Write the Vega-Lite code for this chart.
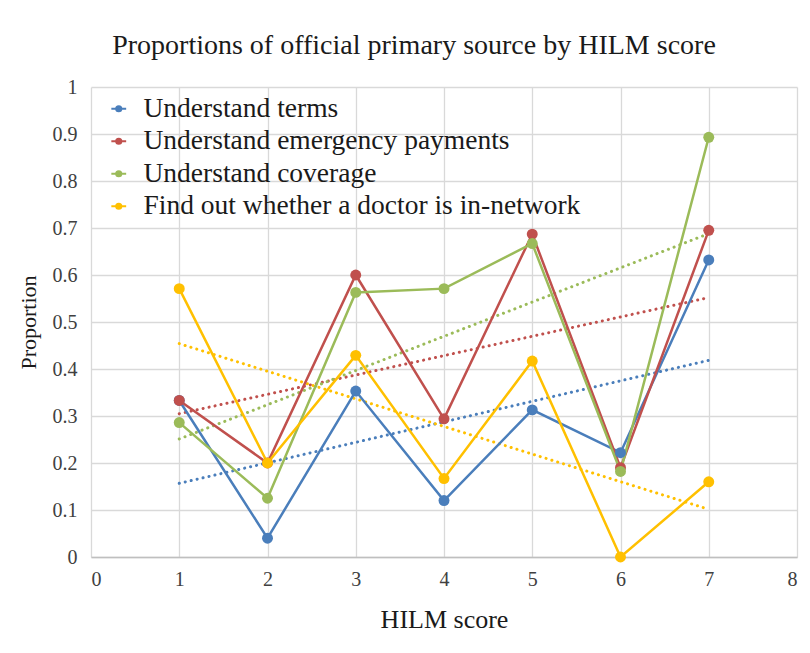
{
  "$schema": "https://vega.github.io/schema/vega-lite/v6.json",
  "width": 706,
  "height": 470,
  "autosize": {"type": "none"},
  "padding": {"left": 91, "top": 87, "right": 13, "bottom": 96},
  "background": "white",
  "title": {
    "text": "Proportions of official primary source by HILM score",
    "font": "Liberation Serif",
    "fontSize": 28,
    "fontWeight": "normal",
    "color": "#1a1a1a",
    "anchor": "middle",
    "dx": -30,
    "offset": 17
  },
  "config": {
    "view": {"stroke": null},
    "font": "Liberation Serif",
    "axis": {
      "labelFont": "Liberation Serif",
      "labelFontSize": 20,
      "labelColor": "#404040",
      "titleFont": "Liberation Serif",
      "titleFontWeight": "normal",
      "titleColor": "#1a1a1a",
      "gridColor": "#d9d9d9",
      "gridWidth": 1.3,
      "ticks": false,
      "domainColor": "#bfbfbf",
      "domainWidth": 1.5
    }
  },
  "data": {
    "values": [
      {"series": "Understand terms", "x": 1, "y": 0.333},
      {"series": "Understand terms", "x": 2, "y": 0.04},
      {"series": "Understand terms", "x": 3, "y": 0.353},
      {"series": "Understand terms", "x": 4, "y": 0.12},
      {"series": "Understand terms", "x": 5, "y": 0.313},
      {"series": "Understand terms", "x": 6, "y": 0.222},
      {"series": "Understand terms", "x": 7, "y": 0.632},
      {"series": "Understand emergency payments", "x": 1, "y": 0.333},
      {"series": "Understand emergency payments", "x": 2, "y": 0.2},
      {"series": "Understand emergency payments", "x": 3, "y": 0.6},
      {"series": "Understand emergency payments", "x": 4, "y": 0.294},
      {"series": "Understand emergency payments", "x": 5, "y": 0.687},
      {"series": "Understand emergency payments", "x": 6, "y": 0.19},
      {"series": "Understand emergency payments", "x": 7, "y": 0.695},
      {"series": "Understand coverage", "x": 1, "y": 0.286},
      {"series": "Understand coverage", "x": 2, "y": 0.125},
      {"series": "Understand coverage", "x": 3, "y": 0.563},
      {"series": "Understand coverage", "x": 4, "y": 0.571},
      {"series": "Understand coverage", "x": 5, "y": 0.667},
      {"series": "Understand coverage", "x": 6, "y": 0.182},
      {"series": "Understand coverage", "x": 7, "y": 0.893},
      {"series": "Find out whether a doctor is in-network", "x": 1, "y": 0.571},
      {"series": "Find out whether a doctor is in-network", "x": 2, "y": 0.2},
      {"series": "Find out whether a doctor is in-network", "x": 3, "y": 0.429},
      {"series": "Find out whether a doctor is in-network", "x": 4, "y": 0.167},
      {"series": "Find out whether a doctor is in-network", "x": 5, "y": 0.417},
      {"series": "Find out whether a doctor is in-network", "x": 6, "y": 0.0},
      {"series": "Find out whether a doctor is in-network", "x": 7, "y": 0.16}
    ]
  },
  "encoding": {
    "x": {
      "field": "x", "type": "quantitative",
      "scale": {"domain": [0, 8], "nice": false},
      "axis": {"values": [0,1,2,3,4,5,6,7,8], "title": "HILM score", "titleFontSize": 26, "titlePadding": 17, "labelPadding": 12, "domain": true, "format": "d"}
    },
    "y": {
      "field": "y", "type": "quantitative",
      "scale": {"domain": [0, 1], "nice": false},
      "axis": {"values": [0,0.1,0.2,0.3,0.4,0.5,0.6,0.7,0.8,0.9,1], "format": ".1~f", "title": "Proportion", "titleFontSize": 22, "titlePadding": 12, "labelPadding": 14, "domain": false}
    },
    "color": {
      "field": "series", "type": "nominal",
      "scale": {
        "domain": ["Understand terms", "Understand emergency payments", "Understand coverage", "Find out whether a doctor is in-network"],
        "range": ["#4a7ebb", "#c0504d", "#9bbb59", "#ffc000"]
      },
      "legend": {
        "title": null,
        "orient": "none",
        "legendX": 14,
        "legendY": 8,
        "labelFont": "Liberation Serif",
        "labelFontSize": 27.5,
        "labelColor": "#1a1a1a",
        "labelLimit": 700,
        "rowPadding": 3.5,
        "symbolType": "M-1,0H1M-0.35,0A0.35,0.35 0 1,0 0.35,0A0.35,0.35 0 1,0 -0.35,0",
        "symbolSize": 220,
        "symbolStrokeWidth": 2,
        "labelOffset": 11
      }
    }
  },
  "layer": [
    {
      "transform": [{"regression": "y", "on": "x", "groupby": ["series"]}],
      "mark": {"type": "line", "strokeWidth": 3, "strokeDash": [0.1, 6], "strokeCap": "round"}
    },
    {
      "mark": {"type": "line", "strokeWidth": 2.5, "point": {"filled": true, "size": 120}}
    }
  ]
}
